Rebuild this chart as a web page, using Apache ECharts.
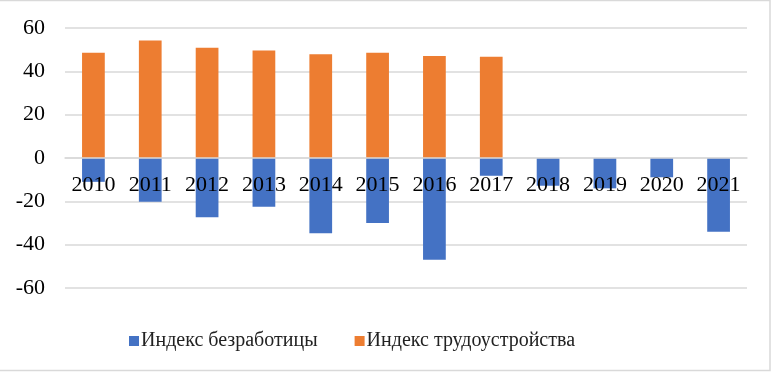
<!DOCTYPE html>
<html>
<head>
<meta charset="utf-8">
<script src="https://cdn.jsdelivr.net/npm/echarts@6/dist/echarts.min.js"></script>
<style>
html,body{margin:0;padding:0;background:#fff;}
#c{width:777px;height:374px;}
</style>
</head>
<body>
<div id="c"></div>
<script>
const categories = ['2010','2011','2012','2013','2014','2015','2016','2017','2018','2019','2020','2021'];
const unemploymentIndex = [-11, -20.2, -27.3, -22.5, -34.7, -30, -47, -8.2, -12.8, -14, -8.9, -34];
const employmentIndex = [48.6, 54.2, 50.9, 49.6, 47.9, 48.6, 47.1, 46.7, null, null, null, null];
const seriesNames = ['Индекс безработицы', 'Индекс трудоустройства'];
const yTicks = { min: -60, max: 60, interval: 20 };

const font = '"Liberation Serif", "Times New Roman", serif';
const chart = echarts.init(document.getElementById('c'), null, { renderer: 'canvas' });
chart.setOption({
  animation: false,
  backgroundColor: '#fff',
  graphic: [{
    type: 'rect',
    shape: { x: -3, y: 0.5, width: 773, height: 370 },
    style: { fill: 'none', stroke: '#d9d9d9', lineWidth: 1.5 },
    silent: true, z: -1
  }],
  grid: { left: 65, right: 30, top: 28, bottom: 86, containLabel: false },
  legend: {
    bottom: 18,
    left: 124,
    itemWidth: 10,
    itemHeight: 10,
    itemGap: 37,
    icon: 'rect',
    textStyle: { fontFamily: font, fontSize: 20, color: '#222', padding: [0, 0, 0, -3] },
    data: seriesNames
  },
  xAxis: {
    type: 'category',
    data: categories,
    z: 10,
    offset: -130,
    axisLine: { show: true, onZero: false, lineStyle: { color: '#d9d9d9', width: 1.5 } },
    axisTick: { show: false },
    axisLabel: { fontFamily: font, fontSize: 22, color: '#000', margin: 16, interval: 0, hideOverlap: false }
  },
  yAxis: {
    type: 'value',
    min: yTicks.min, max: yTicks.max, interval: yTicks.interval,
    axisLine: { show: false },
    axisTick: { show: false },
    splitLine: { lineStyle: { color: '#d9d9d9', width: 1.5 } },
    axisLabel: { fontFamily: font, fontSize: 22, color: '#000', margin: 20 }
  },
  series: [
    { name: seriesNames[0], type: 'bar', data: unemploymentIndex, barWidth: '40%', barGap: '-100%',
      itemStyle: { color: '#4472c4' } },
    { name: seriesNames[1], type: 'bar', data: employmentIndex, barWidth: '40%', barGap: '-100%',
      itemStyle: { color: '#ed7d31' } }
  ]
});
</script>
</body>
</html>
